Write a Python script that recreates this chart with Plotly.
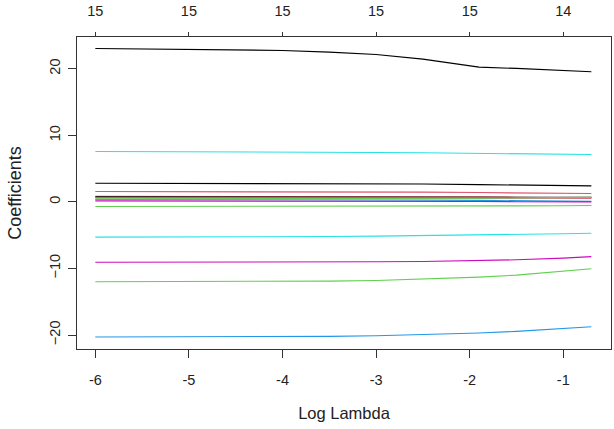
import plotly.graph_objects as go

# Log lambda grid
log_lambda = [-6, -5, -4, -3.5, -3, -2.5, -1.9, -1.5, -1, -0.7]

# Coefficient paths (variables in column order)
v1 = [23.05, 22.95, 22.75, 22.5, 22.15, 21.45, 20.25, 20.05, 19.75, 19.55]
v2 = [1.55, 1.55, 1.54, 1.52, 1.5, 1.47, 1.4, 1.35, 1.3, 1.25]
v3 = [-12.0, -12.0, -11.95, -11.9, -11.8, -11.6, -11.3, -11.0, -10.45, -10.05]
v4 = [-20.3, -20.3, -20.25, -20.2, -20.1, -19.95, -19.7, -19.45, -19.05, -18.75]
v5 = [7.56, 7.55, 7.5, 7.47, 7.43, 7.38, 7.3, 7.25, 7.17, 7.11]
v6 = [-9.07, -9.07, -9.05, -9.03, -9.0, -8.95, -8.85, -8.7, -8.45, -8.22]
v7 = [2.81, 2.8, 2.78, 2.76, 2.73, 2.68, 2.6, 2.54, 2.46, 2.41]
v8 = [0.85, 0.85, 0.84, 0.83, 0.82, 0.8, 0.75, 0.7, 0.62, 0.58]
v9 = [-0.7, -0.7, -0.69, -0.68, -0.67, -0.65, -0.62, -0.6, -0.57, -0.55]
v10 = [0.35, 0.35, 0.34, 0.33, 0.3, 0.27, 0.22, 0.18, 0.12, 0.08]
v11 = [-5.3, -5.29, -5.25, -5.2, -5.15, -5.08, -4.97, -4.9, -4.78, -4.71]
v12 = [0.15, 0.15, 0.14, 0.13, 0.11, 0.09, 0.06, 0.03, 0.0, 0.0]
v13 = [0.75, 0.75, 0.74, 0.73, 0.72, 0.71, 0.7, 0.7, 0.69, 0.68]
v14 = [0.62, 0.62, 0.62, 0.61, 0.6, 0.6, 0.6, 0.58, 0.56, 0.55]
v15 = [0.45, 0.45, 0.46, 0.47, 0.49, 0.52, 0.56, 0.6, 0.65, 0.68]

series = [v1, v2, v3, v4, v5, v6, v7, v8, v9, v10, v11, v12, v13, v14, v15]

# Bottom axis ticks and top axis (number of non-zero coefficients)
bottom_ticks = [-6, -5, -4, -3, -2, -1]
top_labels = ["15", "15", "15", "15", "15", "14"]
y_ticks = [-20, -10, 0, 10, 20]

palette = ["#000000", "#DF536B", "#61D04F", "#2297E6", "#28E2E5", "#CD0BBC"]

fig = go.Figure()
for i, s in enumerate(series):
    fig.add_trace(go.Scatter(
        x=log_lambda, y=s, mode="lines",
        line=dict(color=palette[i % 6], width=1.1),
        showlegend=False, hoverinfo="skip",
    ))

# invisible trace to anchor the top axis
fig.add_trace(go.Scatter(x=[log_lambda[0]], y=[0], xaxis="x2", mode="markers",
                         marker=dict(opacity=0), showlegend=False, hoverinfo="skip"))

family = "Liberation Sans, Arial, sans-serif"
tick_font = dict(family=family, size=14.5, color="#222222")
xr = [-6.196, -0.49]
yr = [-22.1, 24.77]

fig.update_layout(
    width=614, height=429,
    margin=dict(l=77, r=3, t=37, b=80),
    paper_bgcolor="white", plot_bgcolor="white",
    font=tick_font,
    xaxis=dict(range=xr, tickvals=bottom_ticks, ticktext=[str(t) for t in bottom_ticks],
               ticks="outside", ticklen=8, tickwidth=1, tickcolor="#333",
               showline=True, linecolor="#333", linewidth=1, mirror=True,
               showgrid=False, zeroline=False, tickfont=tick_font, ticklabelstandoff=10,
               automargin=False,
               title=dict(text="Log Lambda", font=dict(family=family, size=16.5, color="#222222"),
                          standoff=20)),
    xaxis2=dict(range=xr, overlaying="x", side="top", tickvals=bottom_ticks,
                ticktext=top_labels, ticks="outside", ticklen=4, tickwidth=1,
                tickcolor="#333", showgrid=False, zeroline=False, showline=False,
                tickfont=tick_font, ticklabelstandoff=10, automargin=False),
    yaxis=dict(range=yr, tickvals=y_ticks, tickangle=-90,
               ticks="outside", ticklen=8, tickwidth=1, tickcolor="#333",
               showline=True, linecolor="#333", linewidth=1, mirror=True,
               showgrid=False, zeroline=False, tickfont=tick_font, ticklabelstandoff=2,
               automargin=False,
               title=dict(text="Coefficients", font=dict(family=family, size=18, color="#222222"),
                          standoff=20)),
)

fig.write_html("out.html")
